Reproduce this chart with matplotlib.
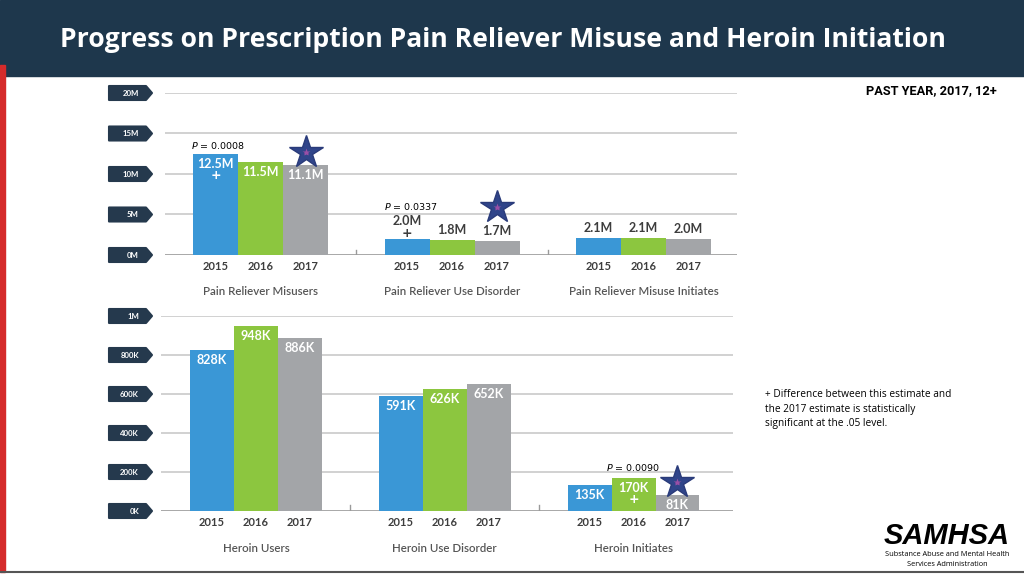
import matplotlib.pyplot as plt
from matplotlib.patches import Polygon, Rectangle

W, H = 1024, 576
fig = plt.figure(figsize=(W / 100, H / 100), dpi=100)

years = ["2015", "2016", "2017"]
bar_colors = ["#3a97d6", "#8cc63f", "#a3a5a8"]

# top panel: millions
top_groups = ["Pain Reliever Misusers", "Pain Reliever Use Disorder", "Pain Reliever Misuse Initiates"]
top_vals = [[12.5, 11.5, 11.1], [2.0, 1.8, 1.7], [2.1, 2.1, 2.0]]
top_labels = [["12.5M", "11.5M", "11.1M"], ["2.0M", "1.8M", "1.7M"], ["2.1M", "2.1M", "2.0M"]]
top_ticks = [0, 5, 10, 15, 20]
top_tick_labels = ["0M", "5M", "10M", "15M", "20M"]

# bottom panel: thousands
bot_groups = ["Heroin Users", "Heroin Use Disorder", "Heroin Initiates"]
bot_vals = [[828, 948, 886], [591, 626, 652], [135, 170, 81]]
bot_labels = [["828K", "948K", "886K"], ["591K", "626K", "652K"], ["135K", "170K", "81K"]]
bot_ticks = [0, 200, 400, 600, 800, 1000]
bot_tick_labels = ["0K", "200K", "400K", "600K", "800K", "1M"]

# significance notes: (panel, group) -> p value / index of bar carrying "+"
p_values = {("top", 0): "0.0008", ("top", 1): "0.0337", ("bot", 2): "0.0090"}
plus_marks = {("top", 0): 0, ("top", 1): 0, ("bot", 2): 1}

navy = "#1e374c"
tag_color = "#25394d"
grid_color = "#c9c9c9"
text_dark = "#3d3d3d"

# background / decoration axes in pixel coords (y down)
bg = fig.add_axes([0, 0, 1, 1])
bg.set_xlim(0, W)
bg.set_ylim(H, 0)
bg.axis("off")
bg.add_patch(Rectangle((0, 0), W, 76, color=navy, zorder=0))
bg.add_patch(Rectangle((0, 65), 5, 507, color="#d52b2b", zorder=0))
bg.plot([0, W], [572, 572], color="#555555", lw=1.5)
bg.text(503, 40, "Progress on Prescription Pain Reliever Misuse and Heroin Initiation",
        color="white", fontsize=19.1, fontweight="bold", family="Open Sans",
        ha="center", va="center")
bg.text(997, 91, "PAST YEAR, 2017, 12+", fontsize=9.2, fontweight="bold",
        family="Roboto", ha="right", va="center")
note = ("+ Difference between this estimate and\n"
        "the 2017 estimate is statistically\n"
        "significant at the .05 level.")
bg.text(765, 389, note, fontsize=7.3, family="Open Sans", va="top", ha="left",
        linespacing=1.45)
bg.text(947, 536, "SAMHSA", fontsize=21, fontweight="bold", style="italic",
        family="Liberation Sans", ha="center", va="center")
bg.text(947, 554, "Substance Abuse and Mental Health", fontsize=5.3,
        family="Open Sans", ha="center", va="center")
bg.text(947, 564, "Services Administration", fontsize=5.3,
        family="Open Sans", ha="center", va="center")


def px(ax, x, y, dx, dy, s, **kw):
    # text placed at a data point, shifted by pixels (dy positive = up)
    ax.annotate(s, (x, y), xytext=(dx, dy), textcoords="offset pixels",
                annotation_clip=False, **kw)


def panel(rect, xlim, ylim, vals, labels, groups, ticks, key, width, inside):
    ax = fig.add_axes([rect[0] / W, 1 - rect[3] / H, (rect[2] - rect[0]) / W,
                       (rect[3] - rect[1]) / H])
    ax.set_xlim(*xlim)
    ax.set_ylim(*ylim)
    ax.axis("off")
    for t in ticks:
        ax.axhline(t, color=grid_color if t else "#9a9a9a", lw=1.2, zorder=0)
    for sep in (0.5, 1.5):
        ax.plot([sep, sep], [0, ylim[1] * 0.03], color="#9a9a9a", lw=1, zorder=0)
    for g, (gv, gl) in enumerate(zip(vals, labels)):
        has_plus = (key, g) in plus_marks
        for i, (v, lab) in enumerate(zip(gv, gl)):
            x = g + (i - 1) * width
            ax.bar(x, v, width=width, color=bar_colors[i], zorder=2)
            lab_kw = dict(fontsize=9, fontweight="bold", family="Lato",
                          ha="center", va="center", zorder=3)
            if inside[g]:
                px(ax, x, v, 0, -10, lab, color="white", **lab_kw)
            else:
                lift = 18 if (has_plus and plus_marks[(key, g)] == i) else 10
                px(ax, x, v, 0, lift, lab, color=text_dark, **lab_kw)
            px(ax, x, 0, 0, -12, years[i], color=text_dark, fontsize=8,
               fontweight="bold", family="Lato", ha="center", va="center")
        if has_plus:
            i = plus_marks[(key, g)]
            x = g + (i - 1) * width
            dy = -22 if inside[g] else 5
            px(ax, x, gv[i], 0, dy, "+", color="white" if inside[g] else text_dark,
               fontsize=9, fontweight="bold", ha="center", va="center", zorder=3)
        if (key, g) in p_values:
            i = plus_marks[(key, g)]
            x = g + (i - 1.5) * width
            if inside[g]:
                dx, dy = (-2, 8) if key == "top" else (-6, 10)
            else:
                dx, dy = (-1, 32)
            px(ax, x, gv[i], dx, dy, r"$P$ = " + p_values[(key, g)],
               fontsize=6.8, ha="left", va="center", zorder=3)
            xs = g + width
            ys_off = 13 if inside[g] else 34
            star_y = ax.transData.inverted().transform(
                ax.transData.transform((xs, gv[2])) + (0, ys_off))[1]
            ax.plot(xs, star_y, marker="*", ms=25, color="#30458a", mec="#2a3b7a",
                    zorder=4, clip_on=False)
            ax.plot(xs, star_y, marker="*", ms=6, color="#9a4fa6", mec="none",
                    zorder=5, clip_on=False)
        px(ax, g, 0, 0, -37, groups[g], color="#555555", fontsize=8.3,
           fontweight="semibold", family="Lato", ha="center", va="center")
    return ax


top_ax = panel((165, 93, 737, 255), (-0.4987, 2.488), (0, 20), top_vals,
               top_labels, top_groups, top_ticks, "top", 0.235,
               [True, False, False])
bot_ax = panel((161, 316, 733, 511), (-0.503, 2.527), (0, 1000), bot_vals,
               bot_labels, bot_groups, bot_ticks, "bot", 0.233,
               [True, True, True])


def tags(ax, ticks, tick_labels):
    for t, lab in zip(ticks, tick_labels):
        y = H - ax.transData.transform((0, t))[1]
        pts = [(109, y - 7), (146, y - 7), (152, y), (146, y + 7), (109, y + 7)]
        bg.add_patch(Polygon(pts, closed=True, fc=tag_color, ec=tag_color,
                             lw=1.5, joinstyle="round"))
        bg.text(139, y + 0.5, lab, color="white", fontsize=5.6, fontweight="bold",
                family="Lato", ha="right", va="center")


tags(top_ax, top_ticks, top_tick_labels)
tags(bot_ax, bot_ticks, bot_tick_labels)

fig.savefig("out.png", dpi=100)
